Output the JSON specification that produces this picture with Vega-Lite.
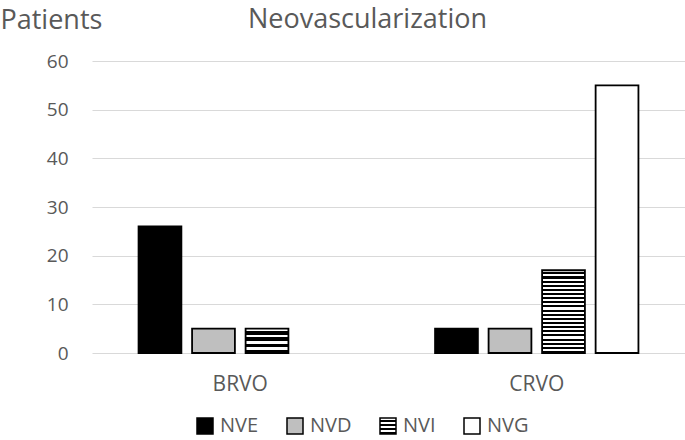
{
  "$schema": "https://vega.github.io/schema/vega-lite/v6.json",
  "autosize": "none",
  "width": 593,
  "height": 292,
  "padding": {"left": 92, "top": 61, "right": 0, "bottom": 87},
  "background": "white",
  "config": {
    "view": {"stroke": null},
    "font": "Open Sans"
  },
  "title": {
    "text": "Neovascularization",
    "anchor": "middle",
    "frame": "group",
    "dx": -21,
    "offset": -28,
    "fontSize": 27,
    "fontWeight": "normal",
    "color": "#595959",
    "font": "Open Sans"
  },
  "data": {
    "values": [
      {"group": "BRVO", "type": "NVE", "value": 26},
      {"group": "BRVO", "type": "NVD", "value": 5},
      {"group": "BRVO", "type": "NVI", "value": 5},
      {"group": "BRVO", "type": "NVG", "value": 0},
      {"group": "CRVO", "type": "NVE", "value": 5},
      {"group": "CRVO", "type": "NVD", "value": 5},
      {"group": "CRVO", "type": "NVI", "value": 17},
      {"group": "CRVO", "type": "NVG", "value": 55}
    ]
  },
  "mark": {"type": "bar", "stroke": "#000000", "strokeWidth": 1.8},
  "encoding": {
    "x": {
      "field": "group",
      "type": "nominal",
      "scale": {"paddingInner": 0, "paddingOuter": 0},
      "axis": {
        "title": null,
        "domain": false,
        "ticks": false,
        "labelAngle": 0,
        "labelFontSize": 21,
        "labelColor": "#595959",
        "labelPadding": 20,
        "labelFont": "Open Sans"
      }
    },
    "xOffset": {
      "field": "type",
      "type": "nominal",
      "sort": ["NVE", "NVD", "NVI", "NVG"],
      "scale": {"paddingInner": 0.2, "paddingOuter": 0.87}
    },
    "y": {
      "field": "value",
      "type": "quantitative",
      "scale": {"domain": [0, 60]},
      "axis": {
        "values": [0, 10, 20, 30, 40, 50, 60],
        "title": "Patients",
        "titleAngle": 0,
        "titleX": -92,
        "titleY": -33,
        "titleAlign": "left",
        "titleBaseline": "alphabetic",
        "titleFontSize": 27,
        "titleFontWeight": "normal",
        "titleColor": "#595959",
        "titleFont": "Open Sans",
        "domain": false,
        "ticks": false,
        "grid": true,
        "gridColor": "#d9d9d9",
        "gridWidth": 1,
        "labelFontSize": 19,
        "labelColor": "#595959",
        "labelPadding": 24,
        "labelFont": "Open Sans"
      }
    },
    "strokeWidth": {
      "condition": {"test": "datum.value == 0", "value": 0},
      "value": 1.8
    },
    "fill": {
      "field": "type",
      "type": "nominal",
      "sort": ["NVE", "NVD", "NVI", "NVG"],
      "condition": {
        "test": "datum.type === 'NVI' && datum.value > 10",
        "value": {
          "gradient": "linear", "x1": 0, "y1": 0, "x2": 0, "y2": 1,
          "stops": [
            {"offset": 0, "color": "white"}, {"offset": 0.025, "color": "white"}, {"offset": 0.025, "color": "black"}, {"offset": 0.05, "color": "black"},
            {"offset": 0.05, "color": "white"}, {"offset": 0.075, "color": "white"}, {"offset": 0.075, "color": "black"}, {"offset": 0.1, "color": "black"},
            {"offset": 0.1, "color": "white"}, {"offset": 0.125, "color": "white"}, {"offset": 0.125, "color": "black"}, {"offset": 0.15, "color": "black"},
            {"offset": 0.15, "color": "white"}, {"offset": 0.175, "color": "white"}, {"offset": 0.175, "color": "black"}, {"offset": 0.2, "color": "black"},
            {"offset": 0.2, "color": "white"}, {"offset": 0.225, "color": "white"}, {"offset": 0.225, "color": "black"}, {"offset": 0.25, "color": "black"},
            {"offset": 0.25, "color": "white"}, {"offset": 0.275, "color": "white"}, {"offset": 0.275, "color": "black"}, {"offset": 0.3, "color": "black"},
            {"offset": 0.3, "color": "white"}, {"offset": 0.325, "color": "white"}, {"offset": 0.325, "color": "black"}, {"offset": 0.35, "color": "black"},
            {"offset": 0.35, "color": "white"}, {"offset": 0.375, "color": "white"}, {"offset": 0.375, "color": "black"}, {"offset": 0.4, "color": "black"},
            {"offset": 0.4, "color": "white"}, {"offset": 0.425, "color": "white"}, {"offset": 0.425, "color": "black"}, {"offset": 0.45, "color": "black"},
            {"offset": 0.45, "color": "white"}, {"offset": 0.475, "color": "white"}, {"offset": 0.475, "color": "black"}, {"offset": 0.5, "color": "black"},
            {"offset": 0.5, "color": "white"}, {"offset": 0.525, "color": "white"}, {"offset": 0.525, "color": "black"}, {"offset": 0.55, "color": "black"},
            {"offset": 0.55, "color": "white"}, {"offset": 0.575, "color": "white"}, {"offset": 0.575, "color": "black"}, {"offset": 0.6, "color": "black"},
            {"offset": 0.6, "color": "white"}, {"offset": 0.625, "color": "white"}, {"offset": 0.625, "color": "black"}, {"offset": 0.65, "color": "black"},
            {"offset": 0.65, "color": "white"}, {"offset": 0.675, "color": "white"}, {"offset": 0.675, "color": "black"}, {"offset": 0.7, "color": "black"},
            {"offset": 0.7, "color": "white"}, {"offset": 0.725, "color": "white"}, {"offset": 0.725, "color": "black"}, {"offset": 0.75, "color": "black"},
            {"offset": 0.75, "color": "white"}, {"offset": 0.775, "color": "white"}, {"offset": 0.775, "color": "black"}, {"offset": 0.8, "color": "black"},
            {"offset": 0.8, "color": "white"}, {"offset": 0.825, "color": "white"}, {"offset": 0.825, "color": "black"}, {"offset": 0.85, "color": "black"},
            {"offset": 0.85, "color": "white"}, {"offset": 0.875, "color": "white"}, {"offset": 0.875, "color": "black"}, {"offset": 0.9, "color": "black"},
            {"offset": 0.9, "color": "white"}, {"offset": 0.925, "color": "white"}, {"offset": 0.925, "color": "black"}, {"offset": 0.95, "color": "black"},
            {"offset": 0.95, "color": "white"}, {"offset": 0.975, "color": "white"}, {"offset": 0.975, "color": "black"}, {"offset": 1, "color": "black"}
          ]
        }
      },
      "scale": {
        "domain": ["NVE", "NVD", "NVI", "NVG"],
        "range": [
          "#000000",
          "#bfbfbf",
          {"expr": "{gradient: 'linear', x1: 0, y1: 0, x2: 0, y2: 1, stops: [{offset: 0, color: 'white'}, {offset: 0.11, color: 'white'}, {offset: 0.11, color: 'black'}, {offset: 0.25, color: 'black'}, {offset: 0.25, color: 'white'}, {offset: 0.36, color: 'white'}, {offset: 0.36, color: 'black'}, {offset: 0.5, color: 'black'}, {offset: 0.5, color: 'white'}, {offset: 0.61, color: 'white'}, {offset: 0.61, color: 'black'}, {offset: 0.75, color: 'black'}, {offset: 0.75, color: 'white'}, {offset: 0.86, color: 'white'}, {offset: 0.86, color: 'black'}, {offset: 1, color: 'black'}]}"},
          "#ffffff"
        ]
      },
      "legend": {
        "title": null,
        "orient": "none",
        "direction": "horizontal",
        "legendX": 103,
        "legendY": 355,
        "symbolType": "square",
        "symbolSize": 256,
        "symbolStrokeColor": "#000000",
        "symbolStrokeWidth": 1.5,
        "labelFontSize": 20,
        "labelColor": "#595959",
        "labelFont": "Open Sans",
        "labelOffset": 5,
        "columnPadding": 25
      }
    }
  }
}
